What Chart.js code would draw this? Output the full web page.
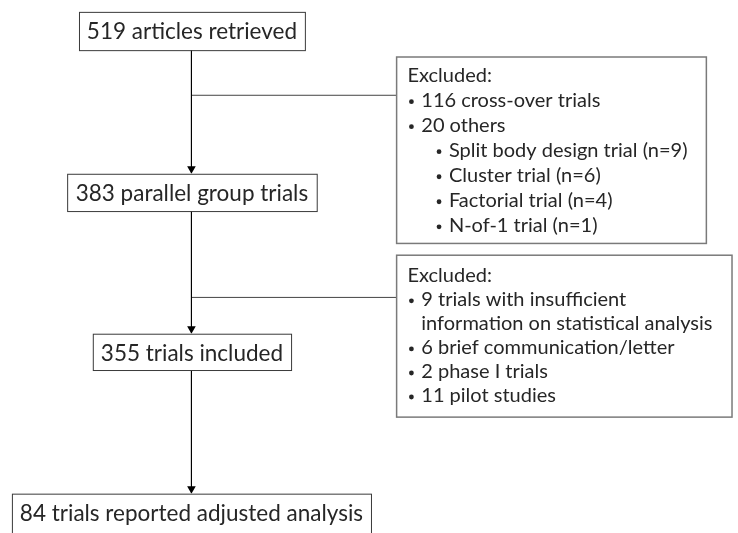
<!DOCTYPE html>
<html>
<head>
<meta charset="utf-8">
<script src="https://cdn.jsdelivr.net/npm/chart.js@4"></script>
<style>
  html, body { margin: 0; padding: 0; background: #fff; }
  #wrap { width: 738px; height: 533px; position: relative; }
</style>
</head>
<body>
<div id="wrap"><canvas id="flowChart"></canvas></div>
<script>
// flow counts and labels
const stepCounts = [519, 383, 355, 84];
const stepLabels = ['articles retrieved', 'parallel group trials', 'trials included', 'trials reported adjusted analysis'];

// first exclusion (between step 1 and 2)
const crossOverCount = 116;
const otherLabels = ['Split body design trial', 'Cluster trial', 'Factorial trial', 'N-of-1 trial'];
const otherCounts = [9, 6, 4, 1];

// second exclusion (between step 2 and 3)
const excl2Counts = [9, 6, 2, 11];
const excl2Labels = ['trials with insufficient\ninformation on statistical analysis', 'brief communication/letter', 'phase I trials', 'pilot studies'];

// layout in canvas units [left, top, right, bottom]
const stepFrames = [[75, 7, 304, 46], [63, 172, 316, 210], [89, 335, 290, 372], [7, 498, 371, 545]];
const exclFrames = [[397, 53, 711, 243], [397, 255, 737, 420]];
const spineX = 189;
const branchY = [92, 298];
const exclFirstLine = [72, 276];
const exclLineGap = [25.5, 24.5];
const arrowR = 5;

const FONT = 'Lato, "Open Sans", sans-serif';
const TEXT = '#262626';

const otherTotal = otherCounts.reduce((a, b) => a + b, 0);
const excl1Lines = [
    { t: 'Excluded:', lvl: 0 },
    { t: crossOverCount + ' cross-over trials', lvl: 1 },
    { t: otherTotal + ' others', lvl: 1 },
    ...otherLabels.map((l, i) => ({ t: l + ' (n=' + otherCounts[i] + ')', lvl: 2 }))
];
const excl2Lines = [{ t: 'Excluded:', lvl: 0 }];
excl2Labels.forEach((l, i) => {
    (excl2Counts[i] + ' ' + l).split('\n').forEach((part, j) => {
        excl2Lines.push({ t: part, lvl: j === 0 ? 1 : 1.5 });
    });
});

// connectors built from the frames
const spineSegs = [];
const arrowTips = [];
for (let i = 0; i < stepFrames.length - 1; i++) {
    spineSegs.push([{ x: spineX, y: stepFrames[i][3] }, { x: spineX, y: stepFrames[i + 1][1] - 1 }]);
    arrowTips.push({ x: spineX, y: stepFrames[i + 1][1] - arrowR });
}
const branchSegs = branchY.map((y, i) => [{ x: spineX, y: y }, { x: exclFrames[i][0], y: y }]);

const lineDs = (pts, color) => ({
    type: 'line', data: pts, borderColor: color, borderWidth: 1,
    pointRadius: 0, showLine: true, fill: false
});

const boxesPlugin = {
    id: 'boxes',
    afterDatasetsDraw(chart) {
        const { ctx, scales: { x, y } } = chart;
        const px = v => x.getPixelForValue(v);
        const py = v => y.getPixelForValue(v);
        ctx.save();
        // main step boxes
        stepFrames.forEach((f, i) => {
            ctx.fillStyle = '#fff';
            ctx.fillRect(px(f[0]), py(f[1]), px(f[2]) - px(f[0]), py(f[3]) - py(f[1]));
            ctx.strokeStyle = '#3a3a3a';
            ctx.lineWidth = 1;
            ctx.strokeRect(px(f[0]) + 0.5, py(f[1]) + 0.5, px(f[2]) - px(f[0]), py(f[3]) - py(f[1]));
            ctx.fillStyle = TEXT;
            ctx.font = '22.5px ' + FONT;
            ctx.textAlign = 'center';
            ctx.textBaseline = 'middle';
            ctx.fillText(stepCounts[i] + ' ' + stepLabels[i], px((f[0] + f[2]) / 2), py(f[1] + 20));
        });
        // exclusion boxes
        [excl1Lines, excl2Lines].forEach((lines, b) => {
            const f = exclFrames[b];
            ctx.strokeStyle = '#7a7a7a';
            ctx.lineWidth = 1.5;
            ctx.strokeRect(px(f[0]), py(f[1]), px(f[2]) - px(f[0]), py(f[3]) - py(f[1]));
            ctx.fillStyle = TEXT;
            ctx.font = '20px ' + FONT;
            ctx.textAlign = 'left';
            ctx.textBaseline = 'middle';
            lines.forEach((ln, k) => {
                const yy = py(exclFirstLine[b] + k * exclLineGap[b]);
                if (ln.lvl === 0) {
                    ctx.fillText(ln.t, px(f[0] + 11), yy);
                } else {
                    const indent = ln.lvl === 2 ? 28 : 0;
                    if (ln.lvl !== 1.5) {
                        ctx.beginPath();
                        ctx.arc(px(f[0] + 15 + indent), yy + 1, 2.4, 0, Math.PI * 2);
                        ctx.fill();
                    }
                    ctx.fillText(ln.t, px(f[0] + 25 + indent), yy);
                }
            });
        });
        ctx.restore();
    }
};

new Chart(document.getElementById('flowChart'), {
    type: 'scatter',
    data: {
        datasets: [
            ...spineSegs.map(s => lineDs(s, '#000')),
            ...branchSegs.map(s => lineDs(s, '#444')),
            {
                type: 'scatter', data: arrowTips, pointStyle: 'triangle', rotation: 180,
                pointRadius: arrowR, backgroundColor: '#000', borderColor: '#000', borderWidth: 0
            }
        ]
    },
    options: {
        responsive: true,
        maintainAspectRatio: false,
        animation: false,
        layout: { padding: 0 },
        plugins: { legend: { display: false }, tooltip: { enabled: false } },
        scales: {
            x: { type: 'linear', min: 0, max: 738, display: false },
            y: { type: 'linear', min: 0, max: 533, reverse: true, display: false }
        }
    },
    plugins: [boxesPlugin]
});
</script>
</body>
</html>
